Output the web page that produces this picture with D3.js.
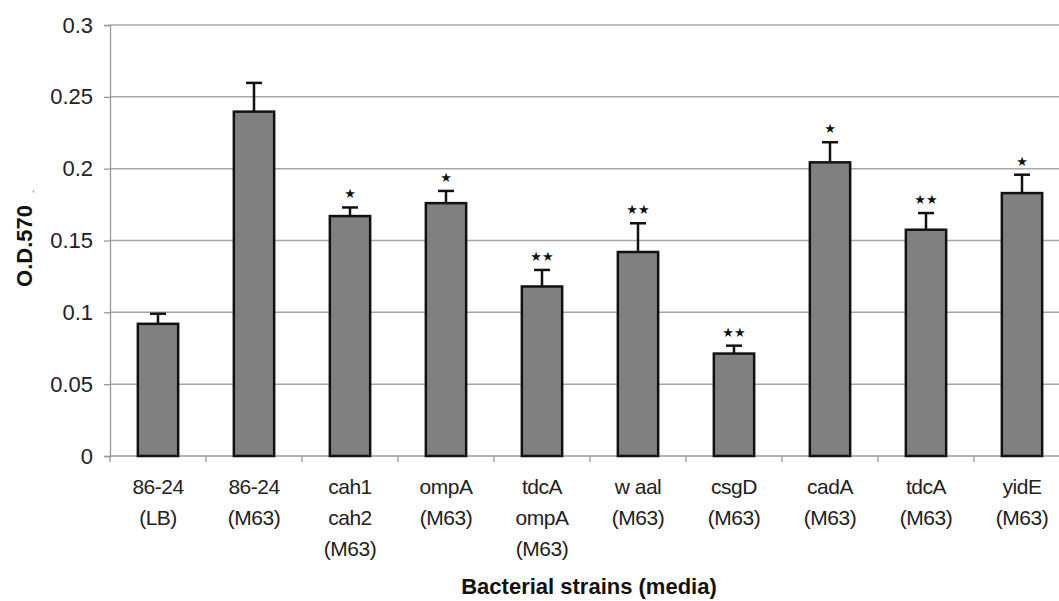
<!DOCTYPE html>
<html>
<head>
<meta charset="utf-8">
<script src="https://cdn.jsdelivr.net/npm/d3@7"></script>
<style>
  body { margin: 0; background: #fff; }
  svg { display: block; font-family: "Liberation Sans", Arial, sans-serif; }
</style>
</head>
<body>
<div id="chart"></div>
<script>
// strains (each entry is the stacked label lines)
const strainLabels = [
  ['86-24', '(LB)'],
  ['86-24', '(M63)'],
  ['cah1', 'cah2', '(M63)'],
  ['ompA', '(M63)'],
  ['tdcA', 'ompA', '(M63)'],
  ['w aal', '(M63)'],
  ['csgD', '(M63)'],
  ['cadA', '(M63)'],
  ['tdcA', '(M63)'],
  ['yidE', '(M63)']
];
const odValues = [0.092, 0.2397, 0.167, 0.176, 0.118, 0.142, 0.0713, 0.2044, 0.1575, 0.183];
const odErrors = [0.007, 0.020, 0.006, 0.0085, 0.0115, 0.020, 0.0055, 0.014, 0.0116, 0.0128];
const significance = ['', '', '*', '*', '**', '**', '**', '*', '**', '*'];
const yTicks = [0, 0.05, 0.1, 0.15, 0.2, 0.25, 0.3];

const width = 1059, height = 601;
const margin = { top: 25, left: 110, bottom: 145 };
const plotRight = 1070;

const data = odValues.map((v, i) => ({ i, value: v, err: odErrors[i], sig: significance[i], lines: strainLabels[i] }));

const svg = d3.select('#chart').append('svg')
  .attr('width', width)
  .attr('height', height);

const x = d3.scaleBand()
  .domain(data.map(d => d.i))
  .range([margin.left, plotRight])
  .paddingInner(0.58)
  .paddingOuter(0.29);

const y = d3.scaleLinear()
  .domain([0, 0.3])
  .range([height - margin.bottom, margin.top]);

// gridlines
svg.append('g')
  .selectAll('line')
  .data(yTicks.filter(t => t > 0))
  .enter().append('line')
  .attr('x1', margin.left)
  .attr('x2', plotRight)
  .attr('y1', d => y(d))
  .attr('y2', d => y(d))
  .attr('stroke', '#a8a8a8')
  .attr('stroke-width', 1.5);

// y axis
const yAxis = svg.append('g')
  .attr('transform', `translate(${margin.left},0)`)
  .call(d3.axisLeft(y).tickValues(yTicks).tickFormat(d3.format('')).tickSize(6).tickPadding(11));
yAxis.select('.domain').attr('stroke', '#999').attr('stroke-width', 1.3);
yAxis.selectAll('.tick line').attr('stroke', '#999').attr('stroke-width', 1.3);
yAxis.selectAll('.tick text')
  .attr('font-size', 22)
  .attr('fill', '#222')
  .attr('font-family', '"Liberation Sans", Arial, sans-serif');

// x axis line + ticks at category boundaries
const step = x.step();
const boundaries = d3.range(data.length + 1).map(k => margin.left + k * step);
svg.append('line')
  .attr('x1', margin.left).attr('x2', plotRight)
  .attr('y1', y(0)).attr('y2', y(0))
  .attr('stroke', '#999').attr('stroke-width', 1.3);
svg.append('g').selectAll('line')
  .data(boundaries)
  .enter().append('line')
  .attr('x1', d => d).attr('x2', d => d)
  .attr('y1', y(0)).attr('y2', y(0) + 6)
  .attr('stroke', '#999').attr('stroke-width', 1.3);

// bars
svg.append('g').selectAll('rect')
  .data(data)
  .enter().append('rect')
  .attr('x', d => x(d.i))
  .attr('y', d => y(d.value))
  .attr('width', x.bandwidth())
  .attr('height', d => y(0) - y(d.value))
  .attr('fill', '#808080')
  .attr('stroke', '#111')
  .attr('stroke-width', 2.5);

// error bars (upper only)
const errs = svg.append('g').attr('stroke', '#111').attr('stroke-width', 2.5);
errs.selectAll('.stem')
  .data(data)
  .enter().append('line')
  .attr('class', 'stem')
  .attr('x1', d => x(d.i) + x.bandwidth() / 2)
  .attr('x2', d => x(d.i) + x.bandwidth() / 2)
  .attr('y1', d => y(d.value))
  .attr('y2', d => y(d.value + d.err));
errs.selectAll('.cap')
  .data(data)
  .enter().append('line')
  .attr('class', 'cap')
  .attr('x1', d => x(d.i) + x.bandwidth() / 2 - 8)
  .attr('x2', d => x(d.i) + x.bandwidth() / 2 + 8)
  .attr('y1', d => y(d.value + d.err))
  .attr('y2', d => y(d.value + d.err));

// significance stars
svg.append('g').selectAll('text')
  .data(data.filter(d => d.sig))
  .enter().append('text')
  .attr('x', d => x(d.i) + x.bandwidth() / 2)
  .attr('y', d => y(d.value + d.err) - 9)
  .attr('text-anchor', 'middle')
  .attr('font-family', '"DejaVu Sans", sans-serif')
  .attr('font-size', 13)
  .attr('fill', '#111')
  .text(d => d.sig.replace(/\*/g, '\u2605'));

// category labels
const labels = svg.append('g').selectAll('text')
  .data(data)
  .enter().append('text')
  .attr('x', d => x(d.i) + x.bandwidth() / 2)
  .attr('y', y(0) + 38)
  .attr('text-anchor', 'middle')
  .attr('font-size', 21)
  .attr('letter-spacing', -0.5)
  .attr('fill', '#222');
labels.selectAll('tspan')
  .data(d => d.lines.map(t => ({ t, cx: x(d.i) + x.bandwidth() / 2 })))
  .enter().append('tspan')
  .attr('x', d => d.cx)
  .attr('dy', (d, k) => k === 0 ? 0 : 31)
  .text(d => d.t);

// axis titles
svg.append('text')
  .attr('x', 589)
  .attr('y', 594)
  .attr('text-anchor', 'middle')
  .attr('font-size', 22)
  .attr('font-weight', 'bold')
  .attr('fill', '#111')
  .text('Bacterial strains (media)');

svg.append('text')
  .attr('transform', 'translate(32,246) rotate(-90)')
  .attr('text-anchor', 'middle')
  .attr('font-size', 22)
  .attr('font-weight', 'bold')
  .attr('fill', '#111')
  .text('O.D.570');

// small mark that trails the y title in the original
svg.append('text')
  .attr('transform', 'translate(36,193) rotate(-90)')
  .attr('font-size', 9)
  .attr('fill', '#555')
  .text('-');
</script>
</body>
</html>
